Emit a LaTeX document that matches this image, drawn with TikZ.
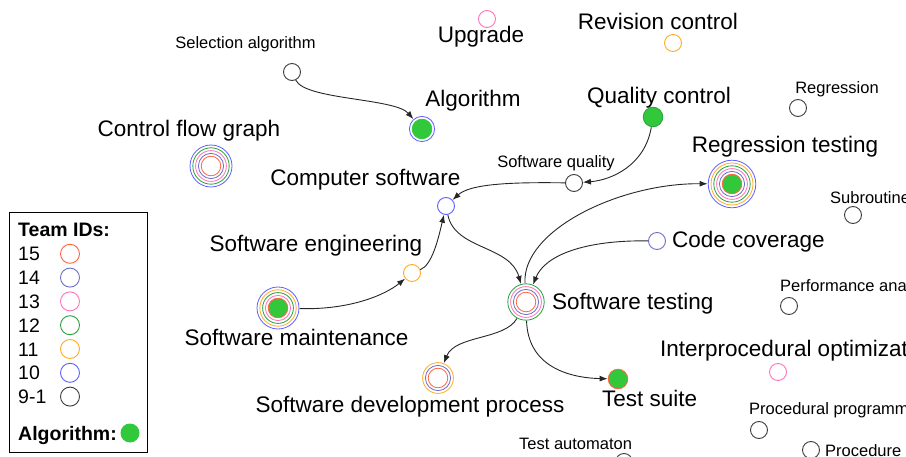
\documentclass[tikz,border=0pt]{standalone}
\usepackage{fontspec}
\setmainfont{Liberation Sans}
\usetikzlibrary{arrows.meta}
\definecolor{team15}{RGB}{255,99,64}
\definecolor{team14}{RGB}{110,110,200}
\definecolor{team13}{RGB}{255,115,185}
\definecolor{team12}{RGB}{40,160,60}
\definecolor{team11}{RGB}{255,170,40}
\definecolor{team10}{RGB}{95,95,255}
\definecolor{team9}{RGB}{60,60,60}
\definecolor{algogreen}{RGB}{50,200,60}
\tikzstyle{topic} = [circle, draw=team9, line width=0.9pt, minimum size=17pt, inner sep=0pt]
\tikzstyle{spot} = [circle, inner sep=0pt]
\tikzstyle{ring} = [line width=0.8pt]
\tikzstyle{bigtxt} = [font=\fontsize{22.5}{26}\selectfont, inner sep=0pt, text height=16pt, text depth=0pt]
\tikzstyle{smalltxt} = [font=\fontsize{16.5}{19}\selectfont, inner sep=0pt, text height=12pt, text depth=0pt]
\tikzstyle{keytxt} = [font=\fontsize{19.5}{22}\selectfont, inner sep=0pt, text height=14pt, text depth=0pt, anchor=west]
\tikzstyle{link} = [draw=black!85, line width=0.9pt, -{Latex[length=8pt,width=6pt]}]
\newcommand{\teamrings}[2]{%
  \foreach \c [count=\i] in {#2}
    \draw[ring,\c] (#1.center) circle[radius={9.8pt+(\i-1)*2.8pt}];}
\newcommand{\algofill}[1]{\fill[algogreen] (#1.center) circle[radius=9.8pt];}

\begin{document}
\begin{tikzpicture}[x=1pt, y=-1pt]
    \useasboundingbox (0,0) rectangle (906,457);
    \clip (0,0) rectangle (906,457);
    % topics
    \node[topic](sel) at (292,72){};
    \node[topic, draw=team13](upg) at (487,19){};
    \node[topic, draw=team11](rev) at (673,43){};
    \node[topic](reg) at (798,108){};
    \node[topic](sub) at (853,215){};
    \node[topic](sq) at (574,183){};
    \node[topic, draw=team10](cs) at (446,206){};
    \node[topic, draw=team11](se) at (412,273){};
    \node[topic, draw=team14](cc) at (657,241){};
    \node[topic](pa) at (789,306){};
    \node[topic, draw=team13](ipo) at (778,372){};
    \node[topic](pp) at (759,430){};
    \node[topic](ta) at (624,462){};
    \node[topic](proc) at (811,450){};
    \node[spot, minimum size=26pt](alg) at (422,129){};
    \algofill{alg}
    \teamrings{alg}{algogreen,team10}
    \node[spot, minimum size=20.4pt](qc) at (653,117){};
    \algofill{qc}
    \teamrings{qc}{team12}
    \node[spot, minimum size=20.4pt](ts) at (618,379){};
    \algofill{ts}
    \teamrings{ts}{team15}
    \node[spot, minimum size=42.8pt](cfg) at (211,166){};
    \teamrings{cfg}{team15,team14,team13,team12,team10}
    \node[spot, minimum size=48.4pt](rt) at (732,184){};
    \algofill{rt}
    \teamrings{rt}{team15,team14,team13,team12,team11,team10}
    \node[spot, minimum size=42.8pt](sm) at (278,308){};
    \algofill{sm}
    \teamrings{sm}{team15,team13,team12,team11,team10}
    \node[spot, minimum size=37.2pt](st) at (526,302){};
    \teamrings{st}{team15,team14,team13,team12}
    \node[spot, minimum size=31.6pt](sdp) at (438,378){};
    \teamrings{sdp}{team15,team14,team11}
    % labels
    \node[smalltxt](selT) at (245.5,42.5){Selection algorithm};
    \node[bigtxt](upgT) at (481,35){Upgrade};
    \node[bigtxt](revT) at (658,22){Revision control};
    \node[bigtxt](algT) at (473,98.5){Algorithm};
    \node[bigtxt](qcT) at (659,96){Quality control};
    \node[smalltxt](regT) at (837,88){Regression};
    \node[bigtxt](cfgT) at (189,128.5){Control flow graph};
    \node[bigtxt](rtT) at (785,145){Regression testing};
    \node[smalltxt](sqT) at (556,162){Software quality};
    \node[bigtxt](csT) at (365.5,178){Computer software};
    \node[smalltxt, anchor=west](subT) at (830,198){Subroutine};
    \node[bigtxt](seT) at (316,244){Software engineering};
    \node[bigtxt, anchor=west](ccT) at (672,240){Code coverage};
    \node[smalltxt, anchor=west](paT) at (780,286){Performance analysis};
    \node[bigtxt, anchor=west](stT) at (552,301.5){Software testing};
    \node[bigtxt](smT) at (296.5,338){Software maintenance};
    \node[bigtxt, anchor=west](ipoT) at (660,348.5){Interprocedural optimization};
    \node[bigtxt, anchor=west](tsT) at (602,398.5){Test suite};
    \node[bigtxt](sdpT) at (410,404.5){Software development process};
    \node[smalltxt, anchor=west](ppT) at (749,408.5){Procedural programming};
    \node[smalltxt, anchor=west](taT) at (519,443.5){Test automaton};
    \node[smalltxt, anchor=west](procT) at (825,450){Procedure};
    % links
    \draw[link] (sel) .. controls (305,100) and (395,98) .. (alg);
    \draw[link] (qc) .. controls (645,165) and (612,180) .. (sq);
    \draw[link] (sq) .. controls (510,182) and (470,184) .. (cs);
    \draw[link] (se) .. controls (432,265) and (438,240) .. (cs);
    \draw[link] (sm) .. controls (350,310) and (385,295) .. (se);
    \draw[link] (cs) .. controls (455,250) and (510,245) .. (st);
    \draw[link] (st) .. controls (522,230) and (620,183) .. (rt);
    \draw[link] (cc) .. controls (585,240) and (545,255) .. (st);
    \draw[link] (st) .. controls (505,340) and (455,335) .. (sdp);
    \draw[link] (st) .. controls (528,370) and (575,378) .. (ts);
    % key
    \node[draw, line width=1pt, minimum width=138pt, minimum height=240pt, anchor=north west, inner sep=0pt](key) at (9,212){};
    \node[keytxt, font=\fontsize{19.5}{22}\selectfont\bfseries](keyT) at (18,230){Team IDs:};
    \foreach \n/\c [count=\i] in {15/team15,14/team14,13/team13,12/team12,11/team11,10/team10,9-1/team9}{
      \node[keytxt](id\i) at (18,{230+23.8*\i}){\n};
      \node[topic, draw=\c, minimum size=19pt](dot\i) at (70,{230+23.8*\i}){};
    }
    \node[keytxt, font=\fontsize{19.5}{22}\selectfont\bfseries](algK) at (18,433){Algorithm:};
    \node[spot, fill=algogreen, minimum size=19pt](algDot) at (130,433){};
\end{tikzpicture}
\end{document}
